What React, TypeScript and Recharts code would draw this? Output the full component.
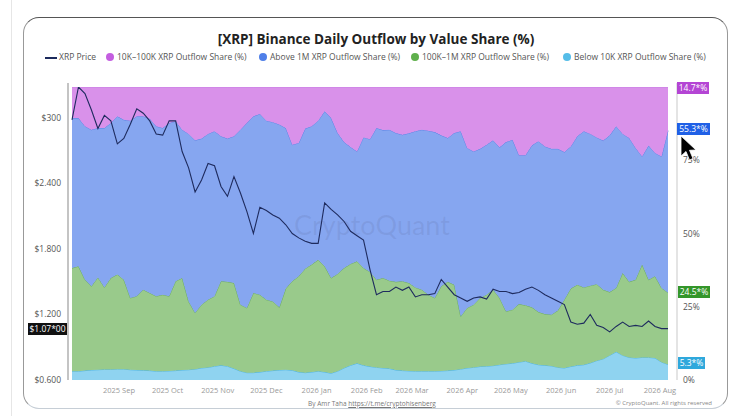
import { ComposedChart, Area, Line, XAxis, YAxis } from 'recharts';

// one sample every 4 days, day 0 = 2025-08-03
const sampleStep = 4;

const xrpPrice = [
  2.98, 3.28, 3.22, 3.07, 2.9, 3.02, 2.97, 2.76, 2.81, 2.94,
  3.08, 3.04, 2.97, 2.85, 2.84, 2.97, 2.97, 2.69, 2.54, 2.32,
  2.43, 2.58, 2.56, 2.37, 2.28, 2.46, 2.31, 2.14, 1.94, 2.18,
  2.15, 2.11, 2.08, 2.02, 1.94, 1.9, 1.87, 1.85, 1.85, 2.22,
  2.16, 2.11, 2.05, 1.96, 1.92, 1.88, 1.61, 1.38, 1.41, 1.41,
  1.45, 1.42, 1.45, 1.36, 1.38, 1.38, 1.39, 1.52, 1.45, 1.38,
  1.35, 1.32, 1.35, 1.36, 1.34, 1.43, 1.41, 1.41, 1.39, 1.4,
  1.43, 1.45, 1.42, 1.38, 1.35, 1.32, 1.29, 1.13, 1.11, 1.12,
  1.2, 1.1, 1.08, 1.04, 1.09, 1.13, 1.09, 1.1, 1.09, 1.14,
  1.09, 1.07, 1.07,
];

const below10k = [
  3.0, 3.0, 3.2, 3.4, 3.5, 3.6, 3.6, 3.7, 3.7, 3.5,
  3.4, 3.3, 3.2, 3.0, 3.0, 3.1, 3.2, 3.4, 3.5, 3.7,
  4.1, 4.3, 4.7, 5.0, 4.7, 3.9, 3.0, 2.5, 2.5, 2.7,
  3.0, 3.2, 3.4, 3.5, 3.3, 2.7, 2.5, 2.7, 3.0, 2.7,
  2.3, 3.0, 4.1, 5.0, 5.7, 5.0, 4.6, 4.3, 4.1, 3.9,
  3.4, 3.2, 3.1, 3.0, 3.0, 3.0, 3.0, 3.1, 3.2, 3.4,
  3.7, 4.1, 4.3, 4.6, 4.7, 4.9, 5.2, 5.5, 5.7, 6.1,
  6.4, 5.7, 5.2, 5.0, 4.8, 4.3, 4.1, 4.6, 5.0, 5.2,
  5.8, 6.6, 7.2, 8.4, 9.6, 8.4, 7.7, 7.5, 7.7, 7.7,
  7.5, 6.1, 5.3,
];

const from100kTo1m = [
  35.2, 35.8, 31.0, 28.6, 31.5, 28.0, 31.2, 32.3, 30.5, 24.5,
  25.2, 27.5, 26.5, 25.6, 26.1, 25.5, 30.5, 31.4, 23.3, 19.2,
  21.6, 23.1, 23.9, 28.7, 28.8, 29.2, 22.7, 22.1, 27.2, 26.4,
  24.4, 23.6, 21.4, 27.7, 30.4, 32.7, 35.5, 36.7, 38.0, 36.1,
  32.5, 33.2, 34.1, 34.6, 34.8, 33.2, 32.3, 29.9, 30.7, 30.0,
  30.1, 30.5, 30.0, 28.6, 27.8, 26.1, 25.0, 28.9, 30.3, 29.1,
  18.0, 20.5, 21.4, 23.4, 24.4, 25.9, 22.8, 17.9, 18.3, 19.8,
  19.1, 19.1, 18.0, 17.5, 17.5, 19.4, 23.3, 26.6, 27.5, 26.4,
  26.4, 26.1, 23.6, 21.6, 21.8, 28.1, 25.8, 26.7, 31.7, 26.5,
  27.9, 25.3, 24.5,
];

const above1m = [
  51.2, 50.6, 52.4, 53.4, 51.0, 54.4, 52.9, 54.0, 54.6, 60.5,
  61.4, 59.2, 59.5, 58.0, 56.9, 59.1, 54.6, 50.6, 57.2, 58.9,
  56.7, 56.6, 56.3, 49.5, 48.9, 50.1, 59.7, 63.1, 60.3, 61.7,
  61.1, 61.2, 62.4, 54.8, 46.6, 45.5, 47.8, 47.2, 47.5, 52.9,
  54.6, 48.1, 43.0, 39.9, 37.5, 44.6, 45.3, 51.8, 50.5, 51.5,
  50.8, 50.0, 51.1, 53.3, 54.6, 56.0, 56.6, 51.5, 49.1, 51.8,
  63.2, 54.6, 52.3, 50.9, 51.2, 51.0, 51.4, 57.8, 58.0, 50.8,
  51.2, 55.3, 58.3, 57.2, 56.6, 55.2, 50.4, 48.5, 50.7, 53.3,
  51.8, 50.1, 50.9, 53.5, 55.2, 47.5, 49.1, 45.0, 36.9, 45.8,
  42.1, 44.9, 55.3,
];

const from10kTo100k = [
  10.6, 10.6, 13.4, 14.6, 14.0, 14.0, 12.3, 10.0, 11.2, 11.5,
  10.0, 10.0, 10.8, 13.4, 14.0, 12.3, 11.7, 14.6, 16.0, 18.2,
  17.6, 16.0, 15.1, 16.8, 17.6, 16.8, 14.6, 12.3, 10.0, 9.2,
  11.5, 12.0, 12.8, 14.0, 19.7, 19.1, 14.2, 13.4, 11.5, 8.3,
  10.6, 15.7, 18.8, 20.5, 22.0, 17.2, 17.8, 14.0, 14.7, 14.6,
  15.7, 16.3, 15.8, 15.1, 14.6, 14.9, 15.4, 16.5, 17.4, 15.7,
  15.1, 20.8, 22.0, 21.1, 19.7, 18.2, 20.6, 18.8, 18.0, 23.3,
  23.3, 19.9, 18.5, 20.3, 21.1, 21.1, 22.2, 20.3, 16.8, 15.1,
  16.0, 17.2, 18.3, 16.5, 13.4, 16.0, 17.4, 20.8, 23.7, 20.0,
  22.5, 23.7, 14.9,
];

const monthTicks = [29, 59, 90, 120, 151, 182, 210, 241, 271, 302, 332, 363];
const monthLabels = [
  '2025 Sep', '2025 Oct', '2025 Nov', '2025 Dec', '2026 Jan', '2026 Feb',
  '2026 Mar', '2026 Apr', '2026 May', '2026 Jun', '2026 Jul', '2026 Aug',
];
const priceTicks = [0.6, 1.2, 1.8, 2.4, 3.0];
const priceLabels = ['$0.600', '$1.200', '$1.800', '$2.400', '$300'];
const shareTicks = [0, 25, 50, 75];
const shareLabels = ['0%', '25%', '50%', '75%'];

const legendItems = [
  { label: '10K–100K XRP Outflow Share (%)', color: '#c45ee0', x: 106 },
  { label: 'Above 1M XRP Outflow Share (%)', color: '#4f7fe8', x: 259 },
  { label: '100K–1M XRP Outflow Share (%)', color: '#5fb04c', x: 411 },
  { label: 'Below 10K XRP Outflow Share (%)', color: '#55bde8', x: 563 },
];

const badges = [
  { text: '14.7*%', bg: '#b445d4', left: 677, top: 82, width: 32 },
  { text: '55.3*%', bg: '#2060e6', left: 677, top: 123, width: 33 },
  { text: '24.5*%', bg: '#34962a', left: 678, top: 286, width: 32 },
  { text: '5.3*%', bg: '#2fa8dc', left: 678, top: 357, width: 27 },
];

const data = xrpPrice.map((price, i) => ({
  day: i * sampleStep,
  price,
  below10k: below10k[i],
  mid: from100kTo1m[i],
  big: above1m[i],
  small: from10kTo100k[i],
}));

const font = '"Open Sans", "Noto Sans", sans-serif';

export default function App() {
  return (
    <div style={{ position: 'absolute', left: 0, top: 0, width: 744, height: 416, background: '#fff', overflow: 'hidden', fontFamily: font }}>
      <div style={{ position: 'absolute', left: 11, top: 0, width: 1, height: 416, background: '#e6e6e6' }} />
      <div
        style={{
          position: 'absolute', left: 23, top: 17, width: 703, height: 390,
          border: '1px solid #999', borderTopColor: '#555', borderBottomColor: '#c6ced6',
          borderRadius: 16,
        }}
      />
      <div style={{ position: 'absolute', left: 0, width: 744, top: 30, textAlign: 'center', fontSize: 13.5, fontWeight: 700, color: '#222', paddingLeft: 4 }}>
        [XRP] Binance Daily Outflow by Value Share (%)
      </div>

      <div style={{ position: 'absolute', left: 45, top: 57, width: 12, height: 1.5, background: '#1c2a5c' }} />
      <div style={{ position: 'absolute', left: 59, top: 51, fontSize: 8.5, color: '#555' }}>XRP Price</div>
      {legendItems.map((item) => (
        <div key={item.label}>
          <div style={{ position: 'absolute', left: item.x, top: 53, width: 8, height: 8, borderRadius: 4, background: item.color }} />
          <div style={{ position: 'absolute', left: item.x + 11, top: 51, fontSize: 8.5, color: '#555', whiteSpace: 'nowrap' }}>{item.label}</div>
        </div>
      ))}

      <div style={{ position: 'absolute', left: 0, top: 0 }}>
        <ComposedChart
          width={744}
          height={416}
          data={data}
          margin={{ top: 83, right: 27, bottom: 16, left: 28 }}
        >
          <XAxis
            dataKey="day"
            type="number"
            domain={[0, 368]}
            ticks={monthTicks}
            interval={0}
            tickFormatter={(v) => monthLabels[monthTicks.indexOf(v)]}
            padding={{ left: 4, right: 9 }}
            axisLine={false}
            tickLine={false}
            tickSize={3}
            tickMargin={5}
            height={20}
            tick={{ fontSize: 7.5, fill: '#999', fontFamily: font }}
          />
          <YAxis
            yAxisId="price"
            orientation="left"
            width={40}
            domain={[0.6, 3.28]}
            allowDataOverflow
            ticks={priceTicks}
            interval={0}
            tickFormatter={(v) => priceLabels[priceTicks.indexOf(v)]}
            padding={{ top: 4, bottom: 0 }}
            axisLine={{ stroke: '#c4c4c4', strokeWidth: 2 }}
            tickLine={false}
            tickSize={5}
            tickMargin={2}
            tick={{ fontSize: 8.5, fill: '#555', fontFamily: font }}
          />
          <YAxis
            yAxisId="share"
            orientation="right"
            width={40}
            domain={[0, 100]}
            allowDataOverflow
            ticks={shareTicks}
            interval={0}
            tickFormatter={(v) => shareLabels[shareTicks.indexOf(v)]}
            padding={{ top: 4, bottom: 0 }}
            axisLine={{ stroke: '#e4e4e4', strokeWidth: 2 }}
            tickLine={false}
            tickSize={4}
            tickMargin={2}
            tick={{ fontSize: 8.5, fill: '#555', fontFamily: font }}
          />
          <Area yAxisId="share" stackId="s" dataKey="below10k" type="linear" stroke="#4fb6e6" strokeWidth={1} fill="#8fd3f0" fillOpacity={1} isAnimationActive={false} />
          <Area yAxisId="share" stackId="s" dataKey="mid" type="linear" stroke="#6caf5c" strokeWidth={1} fill="#99ca8b" fillOpacity={1} isAnimationActive={false} />
          <Area yAxisId="share" stackId="s" dataKey="big" type="linear" stroke="#5b82e6" strokeWidth={1} fill="#86a6f0" fillOpacity={1} isAnimationActive={false} />
          <Area yAxisId="share" stackId="s" dataKey="small" type="linear" stroke="#c77ee3" strokeWidth={1} fill="#d991ea" fillOpacity={1} isAnimationActive={false} />
          <Line yAxisId="price" dataKey="price" type="linear" stroke="#1e2b5e" strokeWidth={1.1} dot={false} isAnimationActive={false} />
        </ComposedChart>
      </div>

      <div style={{ position: 'absolute', left: 0, width: 744, top: 208, textAlign: 'center', fontSize: 27, fontFamily: 'Lato, sans-serif', color: 'rgba(70,80,120,0.12)', pointerEvents: 'none' }}>
        CryptoQuant
      </div>

      {badges.map((b) => (
        <div
          key={b.text}
          style={{
            position: 'absolute', left: b.left, top: b.top, width: b.width, height: 12,
            background: b.bg, color: '#fff', fontSize: 8.5, lineHeight: '12px', textAlign: 'center',
          }}
        >
          {b.text}
        </div>
      ))}
      <div style={{ position: 'absolute', left: 28, top: 323, width: 39, height: 12, background: '#111', color: '#fff', fontSize: 8.5, lineHeight: '12px', textAlign: 'center' }}>
        $1.07*00
      </div>

      <svg style={{ position: 'absolute', left: 680, top: 135 }} width={20} height={28}>
        <path d="M1 1 L1 21 L6 16.5 L9.5 25 L13 23.5 L9.5 15.3 L16 15 Z" fill="#000" stroke="#fff" strokeWidth={0.8} />
      </svg>

      <div style={{ position: 'absolute', left: 0, width: 744, top: 399, textAlign: 'center', fontSize: 6.5, color: '#777', paddingRight: 2 }}>
        By Amr Taha <span style={{ textDecoration: 'underline' }}>https://t.me/cryptohisenberg</span>
      </div>
      <div style={{ position: 'absolute', right: 32, top: 399, fontSize: 6, color: '#888' }}>
        © CryptoQuant. All rights reserved
      </div>
    </div>
  );
}
